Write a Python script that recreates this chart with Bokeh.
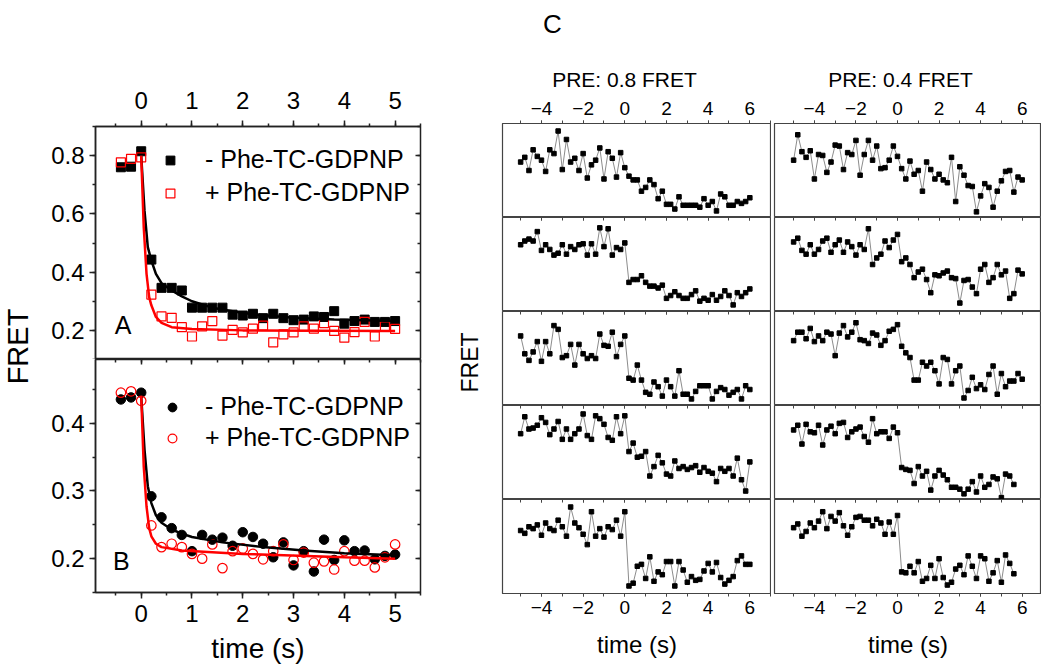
from math import pi
from bokeh.plotting import figure
from bokeh.layouts import row, column
from bokeh.models import Range1d, LinearAxis, SingleIntervalTicker, Label, Legend, LegendItem
from bokeh.embed import file_html
from bokeh.resources import INLINE

FONT = "Liberation Sans"

# ---------------- Panels A and B: ensemble FRET vs time ----------------
t_ab = [-0.4, -0.2, 0.0, 0.2, 0.4, 0.6, 0.8, 1.0, 1.2, 1.4, 1.6, 1.8, 2.0, 2.2,
        2.4, 2.6, 2.8, 3.0, 3.2, 3.4, 3.6, 3.8, 4.0, 4.2, 4.4, 4.6, 4.8, 5.0]

a_minus = [0.760, 0.762, 0.815, 0.443, 0.346, 0.346, 0.337, 0.278, 0.278, 0.278,
           0.278, 0.254, 0.251, 0.257, 0.242, 0.257, 0.242, 0.235, 0.237, 0.248,
           0.246, 0.266, 0.223, 0.232, 0.237, 0.229, 0.229, 0.232]
a_plus = [0.777, 0.789, 0.794, 0.323, 0.248, 0.243, 0.211, 0.179, 0.214, 0.232,
          0.182, 0.202, 0.193, 0.206, 0.216, 0.159, 0.186, 0.193, 0.214, 0.206,
          0.225, 0.198, 0.175, 0.194, 0.229, 0.179, 0.214, 0.205]
b_minus = [0.435, 0.438, 0.445, 0.292, 0.261, 0.245, 0.235, 0.211, 0.235, 0.228,
           0.231, 0.219, 0.239, 0.232, 0.222, 0.202, 0.224, 0.190, 0.211, 0.181,
           0.228, 0.198, 0.227, 0.211, 0.212, 0.199, 0.204, 0.206]
b_plus = [0.445, 0.447, 0.433, 0.249, 0.217, 0.222, 0.217, 0.207, 0.200, 0.221,
          0.186, 0.211, 0.215, 0.207, 0.199, 0.211, 0.221, 0.198, 0.209, 0.194,
          0.196, 0.184, 0.211, 0.197, 0.197, 0.187, 0.202, 0.221]

fit_a_minus_t = [0, 0.065, 0.13, 0.2, 0.29, 0.4, 0.6, 0.8, 1.0, 1.4, 1.8, 2.2, 3.0, 3.8, 5.0]
fit_a_minus = [0.80, 0.611, 0.486, 0.440, 0.394, 0.362, 0.337, 0.317, 0.300, 0.278,
               0.266, 0.255, 0.243, 0.237, 0.232]
fit_a_plus_t = [0, 0.05, 0.105, 0.157, 0.2, 0.29, 0.4, 0.6, 1.0, 2.0, 5.0]
fit_a_plus = [0.80, 0.554, 0.394, 0.314, 0.286, 0.246, 0.226, 0.211, 0.205, 0.200, 0.198]
fit_b_minus_t = [0, 0.065, 0.13, 0.2, 0.29, 0.4, 0.6, 0.8, 1.0, 1.6, 2.4, 3.2, 4.0, 5.0]
fit_b_minus = [0.440, 0.361, 0.307, 0.282, 0.264, 0.253, 0.243, 0.237, 0.232, 0.224,
               0.217, 0.212, 0.208, 0.205]
fit_b_plus_t = [0, 0.05, 0.105, 0.157, 0.2, 0.29, 0.4, 0.8, 2.0, 4.0, 5.0]
fit_b_plus = [0.440, 0.336, 0.277, 0.245, 0.233, 0.222, 0.217, 0.212, 0.207, 0.202, 0.200]

legend_labels = ["- Phe-TC-GDPNP", "+ Phe-TC-GDPNP"]

# ---------------- Panel C: single-molecule traces (FRET, arbitrary units) ----------------
t_trace = [round(-5.0 + 0.2 * i, 1) for i in range(56)]

pre08 = [
    [59, 64, 50, 72, 65, 61, 49, 72, 68, 92, 51, 83, 59, 63, 50, 68, 42, 56, 61, 74,
     41, 70, 63, 43, 69, 53, 44, 40, 40, 28, 32, 40, 35, 20, 28, 14, 14, 9, 22, 13,
     13, 13, 13, 11, 20, 13, 17, 7, 25, 22, 13, 13, 17, 15, 17, 21],
    [71, 75, 77, 75, 85, 65, 71, 66, 60, 62, 71, 61, 69, 66, 71, 72, 60, 72, 61, 89,
     69, 88, 60, 68, 66, 73, 31, 34, 34, 38, 31, 27, 27, 25, 28, 14, 17, 21, 17, 14,
     14, 18, 22, 11, 14, 12, 18, 12, 16, 22, 17, 7, 20, 16, 20, 24],
    [74, 55, 48, 57, 68, 47, 68, 55, 85, 81, 51, 53, 65, 43, 65, 55, 50, 53, 50, 76,
     64, 63, 78, 52, 65, 74, 29, 27, 43, 27, 14, 12, 25, 20, 10, 27, 20, 10, 37, 12,
     12, 7, 15, 21, 21, 21, 7, 15, 19, 17, 11, 14, 17, 7, 21, 17],
    [70, 88, 75, 76, 79, 87, 82, 69, 75, 83, 64, 75, 64, 70, 75, 91, 68, 64, 89, 86,
     80, 66, 63, 88, 70, 89, 51, 60, 45, 46, 51, 25, 35, 47, 39, 27, 25, 41, 33, 35,
     32, 34, 36, 29, 34, 30, 28, 19, 33, 30, 33, 25, 44, 21, 9, 40],
    [67, 64, 71, 69, 73, 62, 75, 69, 67, 78, 71, 61, 92, 75, 70, 63, 52, 87, 61, 69,
     60, 71, 68, 78, 61, 87, 8, 11, 29, 31, 16, 39, 13, 23, 20, 34, 34, 8, 34, 25,
     12, 18, 14, 15, 24, 32, 23, 33, 17, 10, 14, 18, 35, 40, 31, 31],
]
pre04 = [
    [61, 88, 70, 64, 71, 41, 67, 66, 48, 59, 77, 76, 51, 69, 67, 82, 45, 67, 82, 61,
     76, 52, 53, 61, 76, 65, 52, 41, 60, 46, 50, 28, 59, 51, 41, 46, 40, 37, 64, 17,
     54, 45, 34, 33, 6, 23, 36, 32, 11, 28, 39, 49, 50, 27, 43, 40],
    [74, 78, 65, 61, 71, 61, 66, 75, 78, 63, 71, 76, 63, 74, 69, 60, 71, 66, 88, 50,
     57, 61, 75, 68, 76, 82, 53, 57, 50, 36, 42, 45, 34, 20, 39, 38, 41, 43, 36, 35,
     9, 33, 34, 26, 19, 45, 50, 31, 36, 50, 39, 43, 14, 19, 44, 40],
    [69, 78, 78, 71, 82, 68, 74, 69, 78, 76, 53, 77, 85, 73, 78, 88, 70, 69, 66, 77,
     75, 64, 69, 79, 81, 86, 63, 56, 51, 27, 27, 46, 42, 46, 37, 23, 51, 49, 23, 37,
     42, 8, 16, 30, 18, 22, 17, 33, 42, 12, 34, 20, 26, 26, 34, 28],
    [74, 79, 59, 80, 72, 71, 79, 58, 74, 78, 70, 81, 82, 66, 72, 75, 77, 67, 61, 86,
     70, 72, 72, 65, 77, 71, 34, 32, 31, 17, 35, 25, 30, 10, 25, 31, 26, 21, 13, 13,
     11, 6, 11, 19, 8, 25, 13, 16, 24, 22, 2, 27, 25, 16],
    [70, 74, 61, 66, 75, 70, 77, 87, 69, 82, 77, 86, 72, 62, 71, 81, 82, 78, 78, 72,
     79, 75, 63, 76, 63, 83, 23, 22, 29, 22, 34, 13, 16, 30, 16, 37, 17, 9, 12, 26,
     30, 20, 40, 29, 16, 40, 37, 13, 22, 35, 12, 41, 32, 21],
]
column_titles = ["PRE: 0.8 FRET", "PRE: 0.4 FRET"]
panel_title = "C"

TOTAL_H = 668


# ---------------- helpers ----------------
def base_fig(**kw):
    p = figure(output_backend="svg", toolbar_location=None, **kw)
    p.background_fill_color = "white"
    p.border_fill_color = "white"
    return p


def text_fig(w, h):
    p = base_fig(width=w, height=h, x_range=Range1d(0, w), y_range=Range1d(0, h),
                 x_axis_type=None, y_axis_type=None, min_border=0)
    p.outline_line_color = None
    return p


def styled_axis(ax, size, tick_out=6, minor_out=3, standoff=5, lw=1.5, color="#222222"):
    ax.major_label_text_font = FONT
    ax.major_label_text_font_size = size
    ax.major_label_text_color = "black"
    ax.major_tick_out = tick_out
    ax.major_tick_in = 0
    ax.minor_tick_out = minor_out
    ax.minor_tick_in = 0
    ax.major_label_standoff = standoff
    ax.axis_line_color = color
    ax.axis_line_width = lw
    ax.major_tick_line_color = color
    ax.minor_tick_line_color = color
    ax.major_tick_line_width = lw
    ax.minor_tick_line_width = lw


def inner_axis(ticker, tin=5, mtin=3, lw=1.5, color="#222222"):
    return LinearAxis(ticker=ticker, major_label_text_font_size="0px",
                      major_label_text_color=None,
                      major_label_standoff=0, major_tick_out=0, minor_tick_out=0,
                      major_tick_in=tin, minor_tick_in=mtin, axis_line_color=None,
                      major_tick_line_color=color, minor_tick_line_color=color,
                      major_tick_line_width=lw, minor_tick_line_width=lw)


def axis_title(ax, text, size, standoff):
    ax.axis_label = text
    ax.axis_label_text_font = FONT
    ax.axis_label_text_font_size = size
    ax.axis_label_text_font_style = "normal"
    ax.axis_label_text_color = "black"
    ax.axis_label_standoff = standoff


lbl_kw = dict(text_align="center", text_baseline="middle", text_font=FONT, text_color="black")

# ---------------- left label ----------------
labA = text_fig(48, TOTAL_H)
labA.add_layout(Label(x=17, y=TOTAL_H - 346, text="FRET", angle=pi / 2,
                      text_font_size="29px", **lbl_kw))

# ---------------- panel A ----------------
pA = base_fig(width=390, height=126 + 233, x_range=Range1d(-0.9, 5.5), y_range=Range1d(0.1, 0.9),
              x_axis_location="above", min_border_left=46, min_border_right=18,
              min_border_top=126, min_border_bottom=0)
pA.outline_line_color = "#222222"
pA.outline_line_width = 1.5
pA.grid.visible = False
pA.xaxis.ticker = SingleIntervalTicker(interval=1, num_minor_ticks=2)
pA.yaxis.ticker = SingleIntervalTicker(interval=0.2, num_minor_ticks=2)
styled_axis(pA.xaxis[0], "24px", standoff=12)
styled_axis(pA.yaxis[0], "24px")
pA.add_layout(inner_axis(SingleIntervalTicker(interval=0.2, num_minor_ticks=2)), "right")

rA1 = pA.scatter(t_ab, a_minus, marker="square", size=9, fill_color="black", line_color="black")
rA2 = pA.scatter(t_ab, a_plus, marker="square", size=9, fill_color=None, line_color="red", line_width=1.2)
pA.line(fit_a_minus_t, fit_a_minus, line_color="black", line_width=2.5)
pA.line(fit_a_plus_t, fit_a_plus, line_color="red", line_width=2.5)
legA = Legend(items=[LegendItem(label=legend_labels[0], renderers=[rA1]),
                     LegendItem(label=legend_labels[1], renderers=[rA2])],
              location=(64, 152), padding=0, margin=0, spacing=4, glyph_width=22,
              glyph_height=28, label_height=28, label_standoff=24,
              label_text_font=FONT, label_text_font_size="25px", label_text_color="black",
              border_line_color=None, background_fill_alpha=0)
pA.add_layout(legA)
pA.add_layout(Label(x=-0.357, y=0.217, text="A", text_font_size="25px", **lbl_kw))

# ---------------- panel B ----------------
pB = base_fig(width=390, height=233 + 76, x_range=Range1d(-0.9, 5.5), y_range=Range1d(0.15, 0.494),
              min_border_left=46, min_border_right=18, min_border_top=0, min_border_bottom=76)
pB.outline_line_color = "#222222"
pB.outline_line_width = 1.5
pB.grid.visible = False
pB.xaxis.ticker = SingleIntervalTicker(interval=1, num_minor_ticks=2)
pB.yaxis.ticker = SingleIntervalTicker(interval=0.1, num_minor_ticks=2)
styled_axis(pB.xaxis[0], "24px", standoff=6)
styled_axis(pB.yaxis[0], "24px")
axis_title(pB.xaxis[0], "time (s)", "28px", 8)
pB.add_layout(inner_axis(SingleIntervalTicker(interval=1, num_minor_ticks=2)), "above")
pB.add_layout(inner_axis(SingleIntervalTicker(interval=0.1, num_minor_ticks=2)), "right")

rB1 = pB.scatter(t_ab, b_minus, marker="circle", size=9.5, fill_color="black", line_color="black")
rB2 = pB.scatter(t_ab, b_plus, marker="circle", size=9.5, fill_color=None, line_color="red", line_width=1.2)
pB.line(fit_b_minus_t, fit_b_minus, line_color="black", line_width=2.5)
pB.line(fit_b_plus_t, fit_b_plus, line_color="red", line_width=2.5)
legB = Legend(items=[LegendItem(label=legend_labels[0], renderers=[rB1]),
                     LegendItem(label=legend_labels[1], renderers=[rB2])],
              location=(66, 140), padding=0, margin=0, spacing=2, glyph_width=22,
              glyph_height=28, label_height=28, label_standoff=22,
              label_text_font=FONT, label_text_font_size="25px", label_text_color="black",
              border_line_color=None, background_fill_alpha=0)
pB.add_layout(legB)
pB.add_layout(Label(x=-0.39, y=0.197, text="B", text_font_size="25px", **lbl_kw))

# ---------------- panel C ----------------
FRAME_H = 94
OUT = "#444444"
HEADER_H = 92
TOP_AX = 31
BOT_AX = TOTAL_H - HEADER_H - TOP_AX - 5 * FRAME_H


def trace_fig(vals, xr, bl, fw, top, bottom, first, last):
    p = base_fig(width=bl + fw, height=top + FRAME_H + bottom,
                 x_range=Range1d(*xr), y_range=Range1d(0, 100),
                 x_axis_type=None, y_axis_type=None,
                 min_border_left=bl, min_border_right=0,
                 min_border_top=top, min_border_bottom=bottom)
    p.outline_line_color = OUT
    p.outline_line_width = 1.2
    if first:
        ax = LinearAxis(ticker=SingleIntervalTicker(interval=2, num_minor_ticks=2))
        styled_axis(ax, "19px", tick_out=3, minor_out=3, standoff=6, lw=1.0, color=OUT)
        p.add_layout(ax, "above")
    else:
        p.add_layout(inner_axis(SingleIntervalTicker(interval=2, num_minor_ticks=2),
                                tin=3, mtin=3, lw=1.0, color=OUT), "above")
    if last:
        ax = LinearAxis(ticker=SingleIntervalTicker(interval=2, num_minor_ticks=2))
        styled_axis(ax, "19px", tick_out=3, minor_out=3, standoff=4, lw=1.0, color=OUT)
        axis_title(ax, "time (s)", "24px", 14)
        p.add_layout(ax, "below")
    t = t_trace[:len(vals)]
    p.line(t, vals, line_color="#8c8c8c", line_width=1)
    p.scatter(t, vals, marker="square", size=4.5, fill_color="black", line_color="black")
    return p


xr_left = (-5.87, 7.04)
xr_right = (-5.92, 6.93)
colL_figs, colR_figs = [], []
for i in range(5):
    top = TOP_AX if i == 0 else 0
    bottom = BOT_AX if i == 4 else 0
    colL_figs.append(trace_fig(pre08[i], xr_left, 19, 269, top, bottom, i == 0, i == 4))
    colR_figs.append(trace_fig(pre04[i], xr_right, 3, 267, top, bottom, i == 0, i == 4))

LAB_W = 45
labR = text_fig(LAB_W, TOTAL_H - HEADER_H)
labR.add_layout(Label(x=31, y=(TOTAL_H - HEADER_H) - (362 - HEADER_H), text="FRET", angle=pi / 2,
                      text_font_size="23px", **lbl_kw))

HEADER_W = LAB_W + 288 + 270
header = text_fig(HEADER_W, HEADER_H)
header.add_layout(Label(x=114, y=HEADER_H - 23, text=panel_title, text_font_size="26px", **lbl_kw))
header.add_layout(Label(x=186, y=HEADER_H - 79, text=column_titles[0], text_font_size="21px", **lbl_kw))
header.add_layout(Label(x=462, y=HEADER_H - 79, text=column_titles[1], text_font_size="21px", **lbl_kw))

left_block = row(labA, column(pA, pB))
right_block = column(header, row(labR, column(*colL_figs), column(*colR_figs)))
layout = row(left_block, right_block)

with open("out.html", "w") as f:
    f.write(file_html(layout, INLINE))
